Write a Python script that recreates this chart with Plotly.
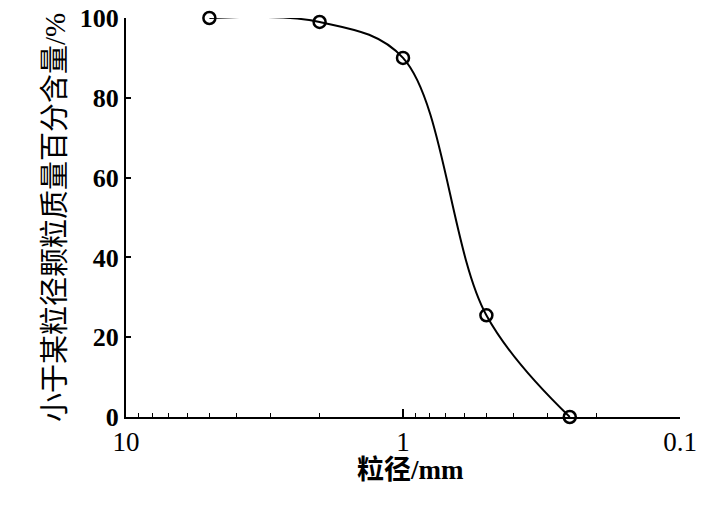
import plotly.graph_objects as go

particle_size_mm = [5, 2, 1, 0.5, 0.25]
percent_finer = [100, 99, 90, 25.5, 0]

x_tick_vals = [10, 1, 0.1]
x_tick_text = ["10", "1", "0.1"]
y_tick_vals = [0, 20, 40, 60, 80, 100]

x_title = "粒径/mm"
y_title = "小于某粒径颗粒质量百分含量/%"

serif = "Liberation Serif, Times New Roman, serif"
cjk = "Liberation Serif, Noto Sans CJK SC, serif"

fig = go.Figure()
fig.add_trace(go.Scatter(
    x=particle_size_mm, y=percent_finer,
    mode="lines+markers",
    line=dict(color="black", width=2, shape="spline", smoothing=1.0),
    marker=dict(symbol="circle-open", size=12, color="black", line=dict(width=2.5, color="black")),
    cliponaxis=False,
    showlegend=False,
    hoverinfo="skip",
))

fig.update_layout(
    width=719, height=505,
    margin=dict(l=126, r=39, t=18, b=88),
    paper_bgcolor="white", plot_bgcolor="white",
    font=dict(family=serif, color="black"),
)
fig.add_annotation(
    text=x_title, xref="paper", yref="paper", x=0.513, y=0,
    xanchor="center", yanchor="middle", yshift=-53, showarrow=False,
    font=dict(family=cjk, size=27, color="black", weight="bold"),
)
fig.update_xaxes(
    type="log", range=[1, -1], automargin=False,
    tickvals=x_tick_vals, ticktext=x_tick_text,
    ticks="inside", ticklen=8, tickwidth=1.5, tickcolor="black",
    minor=dict(ticks="inside", ticklen=4, tickwidth=1.2, tickcolor="black", dtick="D1", showgrid=False),
    showline=True, linecolor="black", linewidth=2,
    showgrid=False, zeroline=False, ticklabeloverflow="allow",
    tickfont=dict(family=serif, size=27, color="black"),
)
fig.update_yaxes(
    range=[0, 100], automargin=False,
    tickvals=y_tick_vals,
    ticks="inside", ticklen=5, tickwidth=1.5, tickcolor="black",
    showline=True, linecolor="black", linewidth=2,
    showgrid=False, zeroline=False, ticklabeloverflow="allow",
    tickfont=dict(family=serif, size=26, color="black", weight="bold"),
    title=dict(text=y_title, font=dict(family=cjk, size=29, color="black"), standoff=6),
)

fig.write_html("out.html", config={"displayModeBar": False},
               post_script="document.body.style.margin='0';")
